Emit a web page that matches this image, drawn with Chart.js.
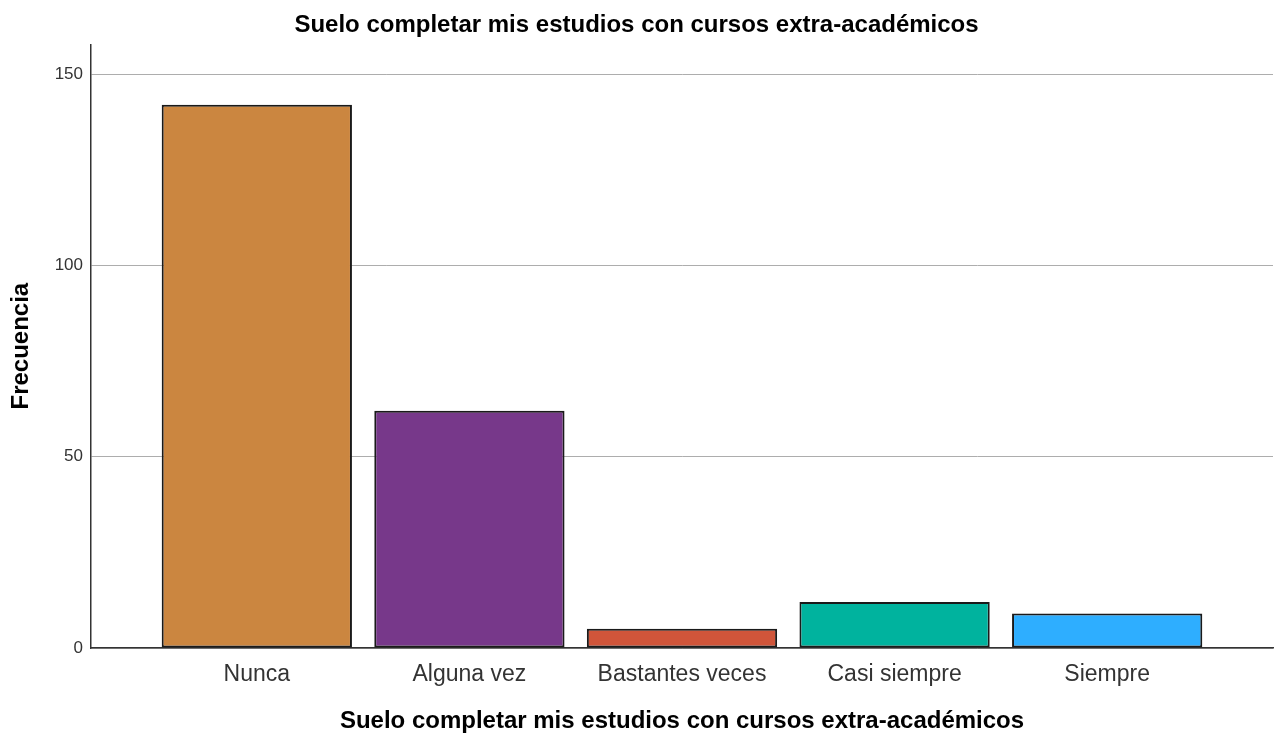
<!DOCTYPE html>
<html>
<head>
<meta charset="utf-8">
<script src="https://cdn.jsdelivr.net/npm/chart.js@4"></script>
<style>
  body { margin: 0; background: #fff; }
  #wrap { width: 1282px; height: 734px; }
</style>
</head>
<body>
<div id="wrap"><canvas id="bar_chart"></canvas></div>
<script>
// datos
const categories = ["Nunca", "Alguna vez", "Bastantes veces", "Casi siempre", "Siempre"];
const counts = [142, 62, 5, 12, 9];
const barColors = ["#cb8640", "#77388a", "#d0553a", "#00b39e", "#2eaeff"];
const yTicks = [0, 50, 100, 150];
const titleText = "Suelo completar mis estudios con cursos extra-académicos";

const fontFam = "'Liberation Sans', Arial, sans-serif";
const ctx = document.getElementById("bar_chart").getContext("2d");

var points = [];
for (var i = 0; i < categories.length; i++) {
  points.push({ x: i + 1, y: counts[i] });
}

var my_chart = new Chart(ctx, {
  type: 'bar',
  data: {
    datasets: [{
      label: 'Frecuencia',
      data: points,
      backgroundColor: barColors,
      borderColor: '#1a1a1a',
      borderWidth: 2,
      borderSkipped: false,
      categoryPercentage: 1,
      barPercentage: 0.895
    }]
  },
  options: {
    responsive: true,
    maintainAspectRatio: false,
    animation: false,
    layout: { padding: { left: 0, right: 9, top: 0, bottom: 0 } },
    plugins: {
      legend: { display: false },
      tooltip: { enabled: false },
      title: {
        display: true,
        text: titleText,
        color: '#000',
        font: { family: fontFam, size: 24, weight: 'bold' },
        padding: { top: 11, bottom: 4.5 }
      }
    },
    scales: {
      x: {
        type: 'linear',
        offset: false,
        min: 0.22,
        max: 5.78,
        afterBuildTicks: function (scale) {
          scale.ticks = categories.map((c, i) => ({ value: i + 1 }));
        },
        afterFit: function (scale) { scale.height = 86; },
        grid: { display: false, drawTicks: false },
        border: { display: true, color: '#333', width: 1.5 },
        ticks: {
          padding: 13,
          color: '#333',
          font: { family: fontFam, size: 23 },
          maxRotation: 0,
          callback: function (value) { return categories[value - 1]; }
        },
        title: {
          display: true,
          text: titleText,
          color: '#000',
          font: { family: fontFam, size: 24, weight: 'bold' },
          padding: { top: 0, bottom: -2 }
        }
      },
      y: {
        min: 0,
        max: 157.8,
        afterBuildTicks: function (scale) {
          scale.ticks = yTicks.map(v => ({ value: v }));
        },
        afterFit: function (scale) { scale.width = 91; },
        grid: { color: '#adadad', lineWidth: 1, drawTicks: false },
        border: { display: true, color: '#333', width: 1.5 },
        ticks: {
          padding: 8,
          color: '#333',
          font: { family: fontFam, size: 17 }
        },
        title: {
          display: true,
          text: 'Frecuencia',
          color: '#000',
          font: { family: fontFam, size: 24, weight: 'bold' },
          padding: { top: 7, bottom: 0 }
        }
      }
    }
  }
});
</script>
</body>
</html>
